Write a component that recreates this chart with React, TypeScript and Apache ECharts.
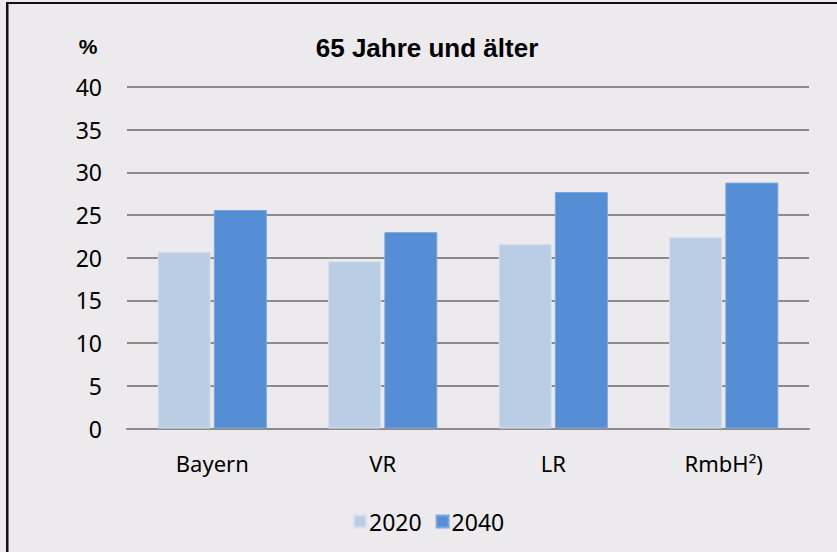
import React, { useEffect, useRef } from "react";
import * as echarts from "echarts";

const categories = ["Bayern", "VR", "LR", "RmbH²)"];
const years = ["2020", "2040"];
const values2020 = [20.7, 19.6, 21.6, 22.4];
const values2040 = [25.6, 23.0, 27.7, 28.8];
const yTicks = [0, 5, 10, 15, 20, 25, 30, 35, 40];

export default function App() {
  const ref = useRef<HTMLDivElement>(null);
  useEffect(() => {
    if (!ref.current) return;
    const chart = echarts.init(ref.current, null, { renderer: "svg" });
    const labelFont = "'Noto Sans', sans-serif";
    chart.setOption({
      animation: false,
      backgroundColor: "#ECEAEC",
      title: {
        text: "65 Jahre und älter",
        left: 422,
        top: 30,
        textAlign: "center",
        textStyle: {
          fontFamily: "'Liberation Sans', Arial, sans-serif",
          fontWeight: "bold",
          fontSize: 26,
          color: "#000",
        },
      },
      graphic: [
        { type: "rect", shape: { x: 6, y: 2, width: 831, height: 2 }, style: { fill: "#111" } },
        { type: "rect", shape: { x: 6, y: 2, width: 2.5, height: 550 }, style: { fill: "#111" } },
        {
          type: "text",
          x: 88,
          y: 46,
          style: {
            text: "%",
            fontFamily: "'Liberation Sans', Arial, sans-serif",
            fontWeight: "bold",
            fontSize: 21,
            fill: "#000",
            textAlign: "center",
            textVerticalAlign: "middle",
          },
        },
      ],
      legend: {
        data: years,
        left: 348,
        top: 505,
        itemWidth: 12,
        itemHeight: 12,
        itemGap: 14,
        icon: "rect",
        textStyle: { fontFamily: labelFont, fontSize: 23, color: "#000", padding: [0, 0, 0, -2] },
      },
      grid: { left: 127, right: 28, top: 87, bottom: 123.5 },
      xAxis: {
        type: "category",
        data: categories,
        axisLine: { lineStyle: { color: "#8C8C8C", width: 2 } },
        axisTick: { show: false },
        axisLabel: { fontFamily: labelFont, fontSize: 22, color: "#000", margin: 23 },
      },
      yAxis: {
        type: "value",
        min: yTicks[0],
        max: yTicks[yTicks.length - 1],
        interval: 5,
        axisLine: { show: false },
        axisTick: { show: false },
        axisLabel: { fontFamily: labelFont, fontSize: 23, color: "#000", margin: 25 },
        splitLine: { lineStyle: { color: "#8C8C8C", width: 2 } },
      },
      series: [
        {
          name: years[0],
          type: "bar",
          data: values2020,
          barWidth: 53,
          barGap: "6%",
          itemStyle: { color: "#B9CDE5", borderColor: "#D6E1EF", borderWidth: 1 },
        },
        {
          name: years[1],
          type: "bar",
          data: values2040,
          barWidth: 53,
          itemStyle: { color: "#558ED5", borderColor: "#7AA7DE", borderWidth: 1 },
        },
      ],
    });
    return () => chart.dispose();
  }, []);
  return (
    <div
      ref={ref}
      style={{ position: "absolute", left: 0, top: 0, width: 837, height: 552 }}
    />
  );
}
